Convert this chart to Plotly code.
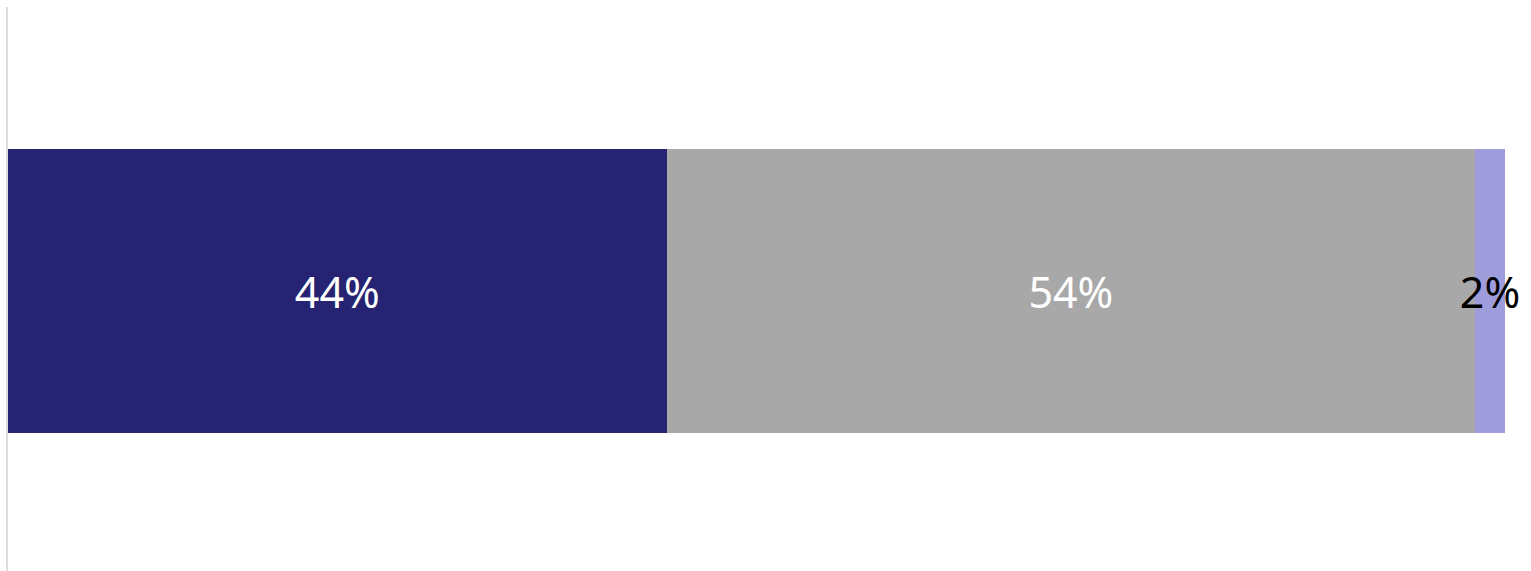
import plotly.graph_objects as go

categories = [""]
series_names = ["A", "B", "C"]
values = [44, 54, 2]
labels = ["44%", "54%", "2%"]
colors = ["#252372", "#a8a8a8", "#9f9cdc"]
text_colors = ["#ffffff", "#ffffff", "#000000"]

fig = go.Figure()
for name, v, lab, c, tc in zip(series_names, values, labels, colors, text_colors):
    fig.add_trace(go.Bar(
        x=[v], y=categories, orientation="h", name=name,
        marker=dict(color=c, line=dict(width=0)),
        text=[lab], textposition="inside", insidetextanchor="middle",
        textangle=0, cliponaxis=False,
        textfont=dict(color=tc, size=43, family="Noto Sans"),
        hoverinfo="skip",
    ))

fig.update_layout(
    barmode="stack",
    bargap=0.4965,
    width=1531, height=571,
    margin=dict(l=8, r=26, t=7, b=0),
    plot_bgcolor="white", paper_bgcolor="white",
    showlegend=False,
    uniformtext=dict(minsize=43, mode="show"),
    xaxis=dict(range=[0, 100], showgrid=False, zeroline=False, showticklabels=False, showline=False),
    yaxis=dict(range=[-0.49645, 0.50355], showgrid=False, zeroline=False, showticklabels=False,
               showline=True, linecolor="#dddddd", linewidth=2),
)
fig.write_html("out.html")
